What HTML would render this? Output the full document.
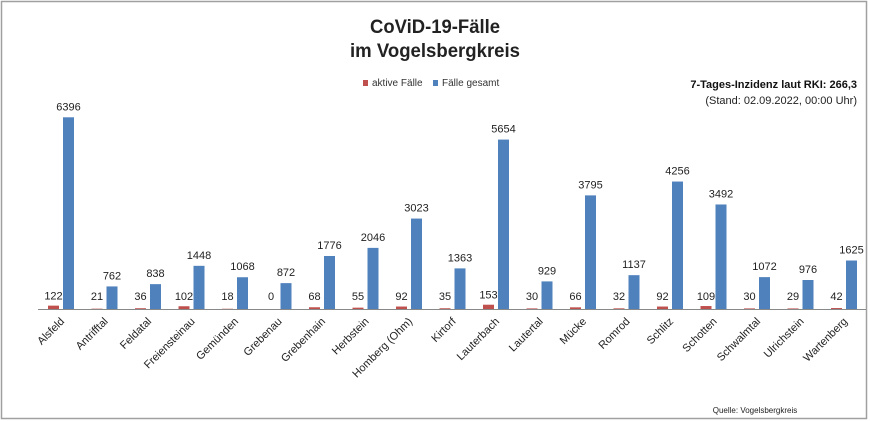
<!DOCTYPE html>
<html><head><meta charset="utf-8"><style>
body{margin:0;background:#fff;}
svg{display:block;font-family:"Liberation Sans",sans-serif;}
</style></head><body>
<svg id="c" width="870" height="421" viewBox="0 0 870 421">
<rect x="1.5" y="1.5" width="865" height="417" fill="#fff" stroke="#a0a0a0" stroke-width="1.5"/>
<text x="435" y="33" text-anchor="middle" font-size="19" font-weight="bold" fill="#222" textLength="130" lengthAdjust="spacingAndGlyphs">CoViD-19-Fälle</text>
<text x="435" y="57" text-anchor="middle" font-size="19" font-weight="bold" fill="#222" textLength="170" lengthAdjust="spacingAndGlyphs">im Vogelsbergkreis</text>
<g>
<rect x="363" y="80" width="5" height="6" fill="#c0504d"/>
<text x="372" y="86" font-size="10" fill="#333">aktive Fälle</text>
<rect x="433" y="80" width="5" height="6" fill="#4f81bd"/>
<text x="442" y="86" font-size="10" fill="#333">Fälle gesamt</text>
</g>
<text x="857" y="88" text-anchor="end" font-size="11" font-weight="bold" fill="#111">7-Tages-Inzidenz laut RKI: 266,3</text>
<text x="857" y="104" text-anchor="end" font-size="11" fill="#222">(Stand: 02.09.2022, 00:00 Uhr)</text>
<text x="755" y="413" text-anchor="middle" font-size="8" fill="#222">Quelle: Vogelsbergkreis</text>
<g id="bars"></g>
<line x1="38" y1="309.5" x2="866" y2="309.5" stroke="#888" stroke-width="1"/>
</svg>
<script>
const categories=["Alsfeld","Antrifftal","Feldatal","Freiensteinau","Gemünden","Grebenau","Grebenhain","Herbstein","Homberg (Ohm)","Kirtorf","Lauterbach","Lautertal","Mücke","Romrod","Schlitz","Schotten","Schwalmtal","Ulrichstein","Wartenberg"];
const aktiveFaelle=[122,21,36,102,18,0,68,55,92,35,153,30,66,32,92,109,30,29,42];
const faelleGesamt=[6396,762,838,1448,1068,872,1776,2046,3023,1363,5654,929,3795,1137,4256,3492,1072,976,1625];
const NS="http://www.w3.org/2000/svg";
const g=document.getElementById('bars');
const base=309.3, scale=(309.3-117.3)/6396;
const x0=61, step=43.5;
const xCenter=i=>x0+i*step;
const yScale=v=>base-v*scale;
function mk(tag,attrs){const e=document.createElementNS(NS,tag);for(const k in attrs)e.setAttribute(k,attrs[k]);g.appendChild(e);return e;}
categories.forEach((c,i)=>{
  const cx=xCenter(i);
  const r=mk('rect',{x:cx-13,y:yScale(aktiveFaelle[i]),width:11,height:base-yScale(aktiveFaelle[i]),fill:'#c0504d'});
  
  
  const b=mk('rect',{x:cx+2,y:yScale(faelleGesamt[i]),width:11,height:base-yScale(faelleGesamt[i]),fill:'#4f81bd'});
  
  
  const t1=mk('text',{x:cx-7.5,y:Math.min(yScale(aktiveFaelle[i])-6,300),'text-anchor':'middle','font-size':'11',fill:'#222'});
  t1.textContent=aktiveFaelle[i];
  
  
  const t2=mk('text',{x:cx+7.5,y:yScale(faelleGesamt[i])-7,'text-anchor':'middle','font-size':'11',fill:'#222'});
  t2.textContent=faelleGesamt[i];
  
  
  const l=mk('text',{x:cx+4,y:322,'text-anchor':'end','font-size':'11',fill:'#222',transform:'rotate(-45 '+(cx+4)+' 322)'});
  l.textContent=c;
  
  
});
</script>
</body></html>
